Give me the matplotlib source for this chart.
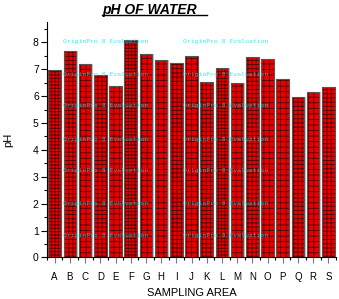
import matplotlib
matplotlib.use("Agg")
import matplotlib.pyplot as plt
from matplotlib.lines import Line2D
from matplotlib.ticker import MultipleLocator

areas = list("ABCDEFGHIJKLMNOPQRS")
ph = [6.97, 7.66, 7.19, 6.77, 6.39, 8.10, 7.55, 7.33, 7.22, 7.48,
      6.52, 7.04, 6.49, 7.45, 7.37, 6.63, 5.95, 6.14, 6.33]
hatches = ["+++++", "++++", "+++", "++++", "+++", "+++++", "+++", "+++", "++++", "+++",
           "++++", "+++++", "+++", "++++", "+++", "+++", "++++", "+++", "++++"]

plt.rcParams['font.family'] = ['Liberation Sans', 'DejaVu Sans']
plt.rcParams['hatch.linewidth'] = 0.6

fig = plt.figure(figsize=(3.39, 2.99), dpi=100)
ax = fig.add_axes([0.139, 0.139, 0.852, 0.787])

x = list(range(len(areas)))
xs = [i + 0.09 for i in x]
# shadow, fill and outline
ax.bar(xs, ph, width=0.83, color="#c8c8c8", linewidth=0, zorder=1)
ax.bar(x, ph, width=0.83, color="#e80000", edgecolor="#500000",
       linewidth=0, hatch=hatches, zorder=2)
ax.bar(x, ph, width=0.83, fill=False, edgecolor="#555555",
       linewidth=0.8, zorder=3)

ax.set_xlim(-0.5, 18.5)
ax.set_ylim(0, 8.75)
ax.set_xticks(x)
ax.set_xticklabels(areas, fontsize=7)
ax.xaxis.set_minor_locator(MultipleLocator(1, offset=0.5))
ax.yaxis.set_major_locator(MultipleLocator(1))
ax.yaxis.set_minor_locator(MultipleLocator(0.5))
ax.tick_params(axis='x', which='major', length=4, width=0.8, color="#777777", pad=6.5)
ax.tick_params(axis='x', which='minor', length=2, width=0.8)
ax.tick_params(axis='y', which='major', length=4, width=0.8, labelsize=7.5, pad=2)
ax.tick_params(axis='y', which='minor', length=2, width=0.8)
for s in ['top', 'right']:
    ax.spines[s].set_visible(False)
ax.set_xlabel("SAMPLING AREA", fontsize=8, labelpad=4.5)
ax.set_ylabel("pH", fontsize=8, labelpad=14)

fig.text(0.44, 0.965, "pH OF WATER", fontsize=10, fontweight='bold',
         fontstyle='italic', ha='center', va='center')
fig.add_artist(Line2D([102 / 339, 207 / 339], [1 - 15 / 299, 1 - 15 / 299],
                      color='black', lw=1))

for col in [63, 183]:
    for row in [42, 74, 106, 139, 171, 203, 235]:
        fig.text(col / 339, 1 - row / 299, "OriginPro 8 Evaluation",
                 fontsize=4.6, family='DejaVu Sans Mono', color='#00e5e5',
                 alpha=0.75, ha='left', va='center', zorder=10)

fig.savefig("out.png", dpi=100)
